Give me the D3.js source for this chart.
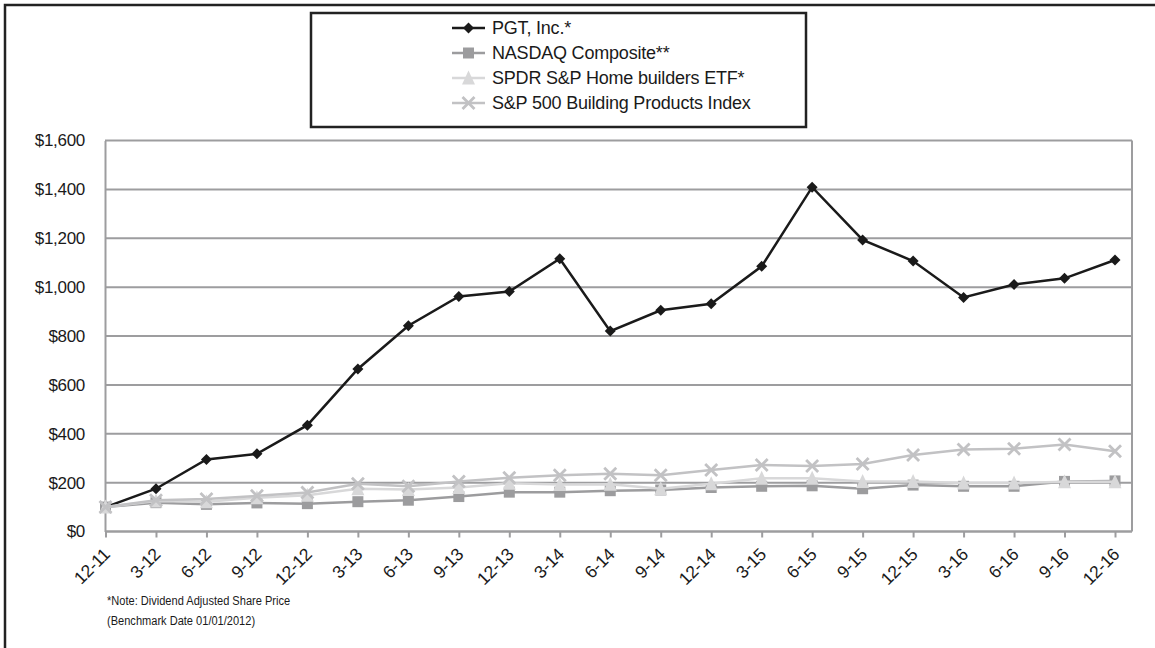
<!DOCTYPE html>
<html>
<head>
<meta charset="utf-8">
<script src="https://cdn.jsdelivr.net/npm/d3@7"></script>
<style>
  body { margin: 0; background: #fff; }
  text { font-family: "Liberation Sans", Arial, sans-serif; fill: #1a1a1a; }
</style>
</head>
<body>
<script>
const quarters = ["12-11", "3-12", "6-12", "9-12", "12-12", "3-13", "6-13", "9-13", "12-13", "3-14", "6-14",
  "9-14", "12-14", "3-15", "6-15", "9-15", "12-15", "3-16", "6-16", "9-16", "12-16"];
const pgt = [100, 175, 295, 318, 435, 665, 842, 962, 982, 1116, 820, 905, 932, 1085, 1409, 1193, 1107, 958, 1011, 1036, 1111];
const nasdaq = [100, 118, 111, 117, 114, 122, 128, 143, 161, 161, 167, 170, 180, 185, 187, 175, 190, 185, 185, 205, 207];
const spdr = [100, 125, 122, 138, 148, 175, 172, 180, 197, 192, 193, 175, 195, 218, 218, 205, 205, 198, 198, 204, 204];
const building = [100, 128, 133, 146, 160, 195, 185, 205, 220, 230, 236, 230, 252, 272, 268, 276, 313, 336, 339, 356, 328];
const yTicks = [0, 200, 400, 600, 800, 1000, 1200, 1400, 1600];
const seriesNames = ["PGT, Inc.*", "NASDAQ Composite**", "SPDR S&P Home builders ETF*", "S&P 500 Building Products Index"];
const noteLines = ["*Note: Dividend Adjusted Share Price", "(Benchmark Date 01/01/2012)"];

const width = 1155, height = 648;
const plot = { left: 105, right: 1132, top: 140.5, bottom: 531.5 };

const svg = d3.select("body").append("svg")
  .attr("width", width)
  .attr("height", height)
  .attr("viewBox", [0, 0, width, height]);

// outer frame (only left and top edges show)
svg.append("path")
  .attr("d", `M5,${height} L5,5 L${width},5`)
  .attr("fill", "none")
  .attr("stroke", "#222")
  .attr("stroke-width", 2.5);

const x = d3.scalePoint().domain(quarters).range([105.5, 1115]);
const y = d3.scaleLinear().domain([0, 1600]).range([plot.bottom, plot.top]);

// gridlines
svg.append("g")
  .selectAll("line")
  .data(yTicks)
  .join("line")
  .attr("x1", plot.left)
  .attr("x2", plot.right)
  .attr("y1", d => y(d))
  .attr("y2", d => y(d))
  .attr("stroke", "#9d9d9f")
  .attr("stroke-width", 2);

// right border of plot
svg.append("line")
  .attr("x1", plot.right).attr("x2", plot.right)
  .attr("y1", plot.top).attr("y2", plot.bottom)
  .attr("stroke", "#9d9d9f").attr("stroke-width", 2);

// y axis
const yAxis = d3.axisLeft(y).tickValues(yTicks).tickSize(0).tickPadding(20)
  .tickFormat(d => "$" + d3.format(",")(d));
svg.append("g")
  .attr("transform", `translate(${plot.left},0)`)
  .call(yAxis)
  .call(g => g.select(".domain").attr("stroke", "#9d9d9f").attr("stroke-width", 2))
  .call(g => g.selectAll("text").attr("font-size", 17).attr("fill", "#1a1a1a")
    .attr("letter-spacing", -0.3)
    .style("font-family", "'Liberation Sans', Arial, sans-serif"));

// x axis
const xAxis = d3.axisBottom(x).tickSize(6).tickSizeOuter(0);
svg.append("g")
  .attr("transform", `translate(0,${plot.bottom})`)
  .call(xAxis)
  .call(g => g.select(".domain").attr("d", `M${plot.left},0H${plot.right}`)
    .attr("stroke", "#9d9d9f").attr("stroke-width", 2))
  .call(g => g.selectAll(".tick line").attr("stroke", "#9d9d9f").attr("stroke-width", 2))
  .call(g => g.selectAll("text")
    .attr("font-size", 17.5)
    .attr("fill", "#1a1a1a")
    .attr("letter-spacing", -0.3)
    .style("font-family", "'Liberation Sans', Arial, sans-serif")
    .attr("text-anchor", "end")
    .attr("dy", 0)
    .attr("y", 0)
    .attr("transform", "translate(5,24) rotate(-45)"));

const series = [
  { name: seriesNames[0], values: pgt, color: "#1a1a1a", marker: "diamond", size: 11 },
  { name: seriesNames[1], values: nasdaq, color: "#9c9c9e", marker: "square", size: 11 },
  { name: seriesNames[2], values: spdr, color: "#d8d8d9", marker: "triangle", size: 13 },
  { name: seriesNames[3], values: building, color: "#c2c2c4", marker: "cross", size: 12 }
];

function markerPath(type, s) {
  const h = s / 2;
  if (type === "diamond") return `M0,${-h}L${h},0L0,${h}L${-h},0Z`;
  if (type === "square") return `M${-h},${-h}H${h}V${h}H${-h}Z`;
  if (type === "triangle") return `M0,${-h - 1}L${h},${h}H${-h}Z`;
  return `M${-h},${-h}L${h},${h}M${h},${-h}L${-h},${h}`;
}

function drawMarker(g, type, color, s) {
  const p = g.append("path").attr("d", markerPath(type, s));
  if (type === "cross") p.attr("fill", "none").attr("stroke", color).attr("stroke-width", 2.8);
  else p.attr("fill", color).attr("stroke", "none");
}

const line = d3.line().x((d, i) => x(quarters[i])).y(d => y(d));

// draw back-to-front so the last series sits on top
series.forEach(s => {
  const g = svg.append("g");
  g.append("path")
    .attr("d", line(s.values))
    .attr("fill", "none")
    .attr("stroke", s.color)
    .attr("stroke-width", 2.5);
  g.selectAll("g.m")
    .data(s.values)
    .join("g")
    .attr("class", "m")
    .attr("transform", (d, i) => `translate(${x(quarters[i])},${y(d)})`)
    .each(function () { drawMarker(d3.select(this), s.marker, s.color, s.size); });
});

// legend
const legend = svg.append("g");
legend.append("rect")
  .attr("x", 311).attr("y", 13)
  .attr("width", 495).attr("height", 114)
  .attr("fill", "#fff")
  .attr("stroke", "#222")
  .attr("stroke-width", 2.5);

series.forEach((s, i) => {
  const ly = 28 + i * 25;
  const row = legend.append("g").attr("transform", `translate(0,${ly})`);
  row.append("line")
    .attr("x1", 452).attr("x2", 485)
    .attr("stroke", s.color).attr("stroke-width", 2.5);
  drawMarker(row.append("g").attr("transform", "translate(468.5,0)"), s.marker, s.color, s.size);
  row.append("text")
    .attr("x", 492).attr("y", 0).attr("dy", "0.35em")
    .attr("font-size", 18)
    .attr("letter-spacing", -0.2)
    .text(s.name);
});

// footnote (the source text is set condensed)
svg.append("g")
  .selectAll("text")
  .data(noteLines)
  .join("text")
  .attr("transform", (d, i) => `translate(107,${605 + i * 20}) scale(0.82,1)`)
  .attr("font-size", 13.5)
  .text(d => d);
</script>
</body>
</html>
